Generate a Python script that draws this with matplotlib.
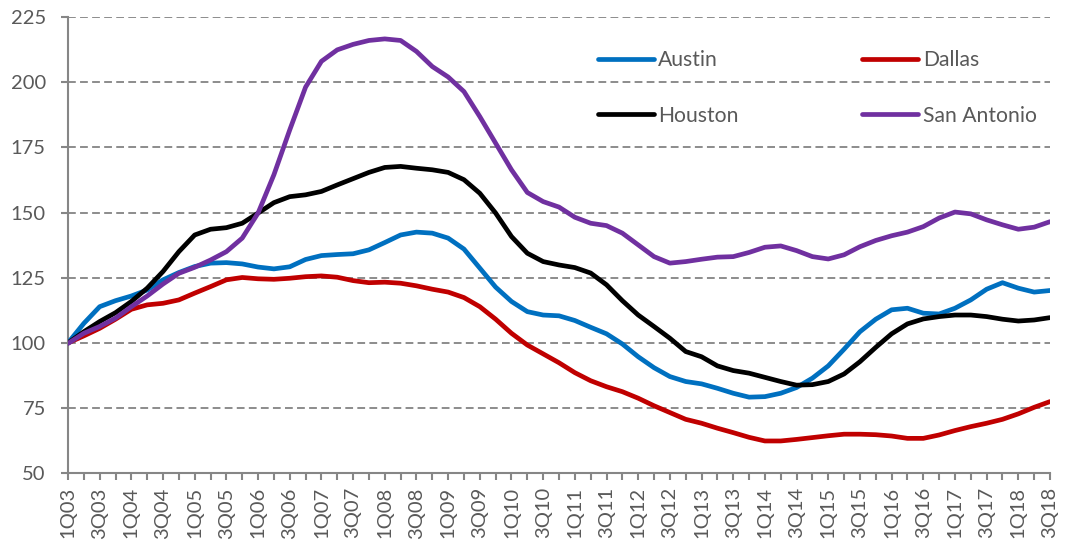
import matplotlib
matplotlib.use("Agg")
import matplotlib.pyplot as plt
import numpy as np

plt.rcParams['font.family'] = ['Lato', 'DejaVu Sans']

years = list(range(3, 19))
quarters = [f"{q}Q{y:02d}" for y in years for q in (1, 2, 3, 4)][:63]

austin = [100, 107.5, 113.9, 116.2, 118.0, 120.3, 124.2, 127.0, 129.3, 130.6,
          130.8, 130.3, 129.1, 128.4, 129.2, 132.0, 133.5, 133.9, 134.2, 135.7,
          138.5, 141.4, 142.5, 142.1, 140.2, 136.0, 128.7, 121.4, 115.9, 112.0,
          110.7, 110.4, 108.6, 106.0, 103.5, 99.6, 94.7, 90.5, 87.1, 85.2,
          84.3, 82.6, 80.7, 79.2, 79.4, 80.7, 82.9, 86.5, 91.2, 97.6,
          104.3, 109.1, 112.7, 113.3, 111.4, 111.1, 113.3, 116.5, 120.6, 123.1,
          121.0, 119.5, 120.1]
dallas = [100, 102.7, 105.6, 109.1, 112.9, 114.6, 115.2, 116.5, 119.1, 121.6,
          124.2, 125.1, 124.6, 124.4, 124.8, 125.4, 125.7, 125.2, 123.9, 123.1,
          123.3, 122.9, 121.9, 120.6, 119.5, 117.4, 113.9, 109.1, 103.7, 99.2,
          95.8, 92.4, 88.6, 85.5, 83.2, 81.3, 78.8, 75.9, 73.3, 70.7,
          69.2, 67.3, 65.6, 63.8, 62.4, 62.4, 63.0, 63.7, 64.4, 65.0,
          65.0, 64.8, 64.3, 63.4, 63.4, 64.7, 66.4, 67.9, 69.2, 70.7,
          72.8, 75.3, 77.5]
houston = [100, 104.3, 108.2, 111.6, 115.9, 121.0, 127.4, 135.0, 141.4, 143.6,
           144.2, 145.9, 149.8, 153.8, 156.1, 156.8, 158.1, 160.6, 163.0, 165.4,
           167.3, 167.7, 167.0, 166.4, 165.4, 162.6, 157.4, 149.8, 140.8, 134.4,
           131.2, 129.9, 128.9, 126.8, 122.3, 116.2, 110.7, 106.3, 101.8, 96.7,
           94.7, 91.2, 89.4, 88.4, 86.8, 85.2, 83.8, 84.0, 85.2, 88.1,
           92.8, 98.3, 103.5, 107.3, 109.2, 110.1, 110.7, 110.7, 110.1, 109.1,
           108.4, 108.8, 109.7]
san_antonio = [99.8, 103.7, 106.3, 109.5, 113.9, 118.0, 122.6, 126.7, 129.0, 131.8,
               135.0, 140.2, 149.8, 164.5, 181.7, 198.1, 208.0, 212.4, 214.5, 216.0,
               216.6, 216.0, 211.8, 206.0, 202.0, 196.4, 186.8, 176.6, 166.4, 157.7,
               154.2, 152.1, 148.2, 145.9, 145.0, 142.1, 137.6, 133.1, 130.6, 131.2,
               132.1, 132.9, 133.1, 134.7, 136.7, 137.2, 135.4, 133.1, 132.2, 133.8,
               136.9, 139.3, 141.1, 142.5, 144.6, 147.9, 150.2, 149.5, 147.2, 145.3,
               143.6, 144.4, 146.5]

series = [("Austin", austin, "#0070C0"),
          ("Dallas", dallas, "#C00000"),
          ("Houston", houston, "#000000"),
          ("San Antonio", san_antonio, "#7030A0")]

W, H = 1066, 544
fig = plt.figure(figsize=(W / 100, H / 100), dpi=100)
ax = fig.add_axes([68 / W, 1 - 473.3 / H, (1050 - 68) / W, (473.3 - 17) / H])

x = np.arange(len(quarters))
handles = {}
for name, vals, col in series:
    h, = ax.plot(x, vals, color=col, lw=3.4, solid_joinstyle='round',
                 solid_capstyle='round', label=name, zorder=3)
    handles[name] = h

ax.set_xlim(0, len(quarters) - 1)
ax.set_ylim(50, 225)
ax.set_yticks(np.arange(50, 226, 25))
ax.yaxis.grid(True, color='#8c8c8c', lw=1.4, linestyle=(0, (4, 2.2)))
ax.set_axisbelow(True)

ax.set_xticks(x)
ax.set_xticklabels([q if i % 2 == 0 else "" for i, q in enumerate(quarters)],
                   rotation=90)

grey = '#868686'
for s in ['top', 'right']:
    ax.spines[s].set_visible(False)
for s in ['left', 'bottom']:
    ax.spines[s].set_color(grey)
    ax.spines[s].set_linewidth(1.5)
ax.tick_params(axis='both', colors=grey, width=1.5, length=5, direction='out')
ax.tick_params(axis='y', labelsize=14.5, labelcolor='#595959', pad=11)
ax.tick_params(axis='x', labelsize=14.5, labelcolor='#595959', pad=5)

order = ["Austin", "Houston", "Dallas", "San Antonio"]
leg = ax.legend([handles[n] for n in order], order, ncol=2, frameon=False,
                loc='upper left', bbox_to_anchor=(598 / W, 1 - 50.5 / H),
                bbox_transform=fig.transFigure, borderaxespad=0, borderpad=0,
                handlelength=2.64, handletextpad=0.22, columnspacing=5.85,
                labelspacing=1.67, fontsize=15.2)
for t in leg.get_texts():
    t.set_color('#595959')

fig.savefig("out.png", dpi=100)
